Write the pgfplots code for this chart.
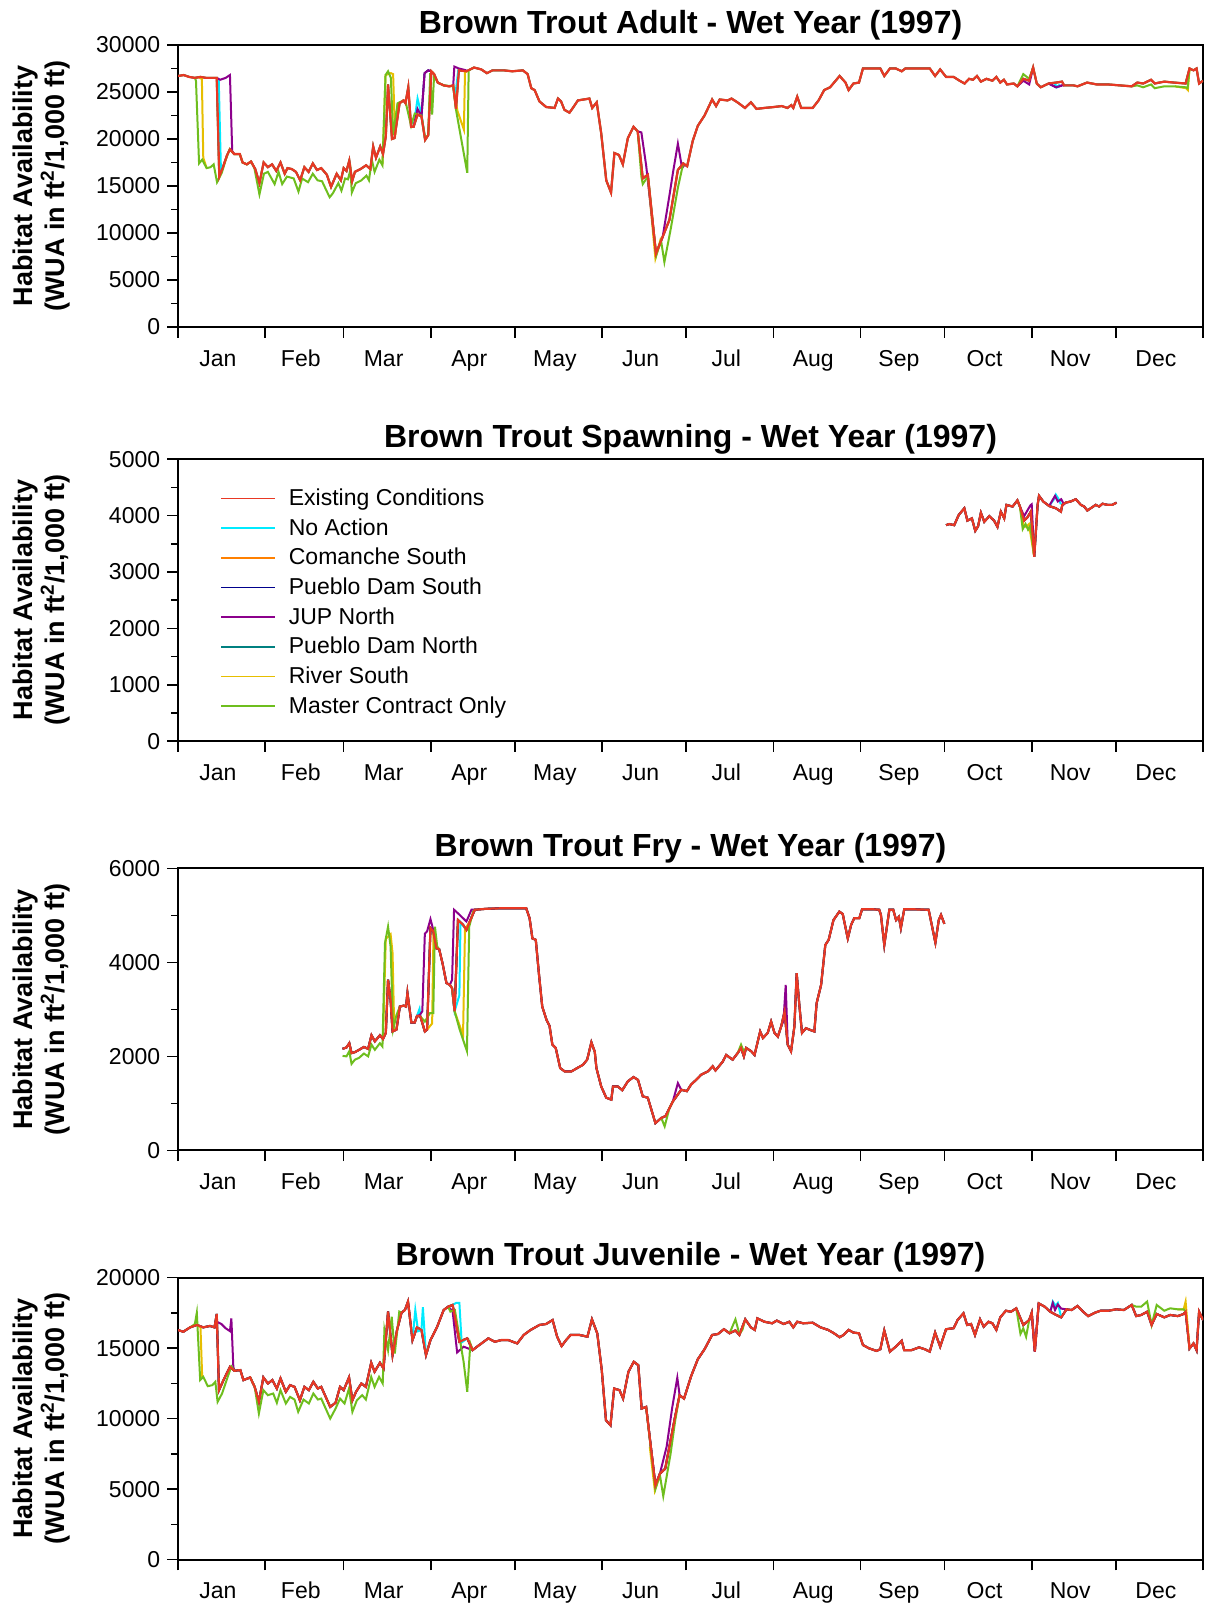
\documentclass[border=0pt]{standalone}
\usepackage{fontspec}
\setmainfont{Liberation Sans}
\usepackage{pgfplots}
\usepackage{pgfplotstable}
\pgfplotsset{compat=1.18}

\definecolor{cExist}{RGB}{232,56,36}
\definecolor{cNoAct}{RGB}{0,235,255}
\definecolor{cComan}{RGB}{255,128,0}
\definecolor{cPDS}{RGB}{0,0,140}
\definecolor{cJUP}{RGB}{140,0,140}
\definecolor{cPDN}{RGB}{0,128,128}
\definecolor{cRiver}{RGB}{230,190,0}
\definecolor{cMaster}{RGB}{110,190,30}

% ---------- Brown Trout Adult: Existing Conditions ----------
\pgfplotstableread{
d v
0 26700
2 26800
4 26600
6 26500
8 26600
10 26500
13.8 26500
14.7 16000
16 17000
17.5 18300
18.5 18900
20 18400
22 18400
23 17500
24.5 17300
26 17600
27.5 16800
29 15300
30.5 17500
32 17000
33.5 17300
35 16600
36.5 17500
38 16300
39 16900
40.5 16800
42 16500
43.5 15600
45 17000
46.5 16500
48 17400
49.5 16700
51 16900
53 16200
54.5 14900
56.5 16300
58 15600
59 16900
60 16600
61 17700
62 15500
63 16500
65 16800
67 17200
68.5 16800
69.5 19200
70.5 18000
72 19200
73 18400
74 20300
74.8 25800
76.2 20000
77.1 20100
78.9 23800
80.3 24100
81 23800
82 25500
83 21300
83.9 21300
85.3 22600
86.7 22400
88 19900
89.1 20400
90.2 27200
91.2 26900
92.5 26000
94.6 25700
96.6 25600
98 25700
99 23200
100 27300
102.7 27200
105.4 27600
108 27400
110 27000
112 27300
116 27300
119 27200
122.8 27300
124.5 26900
125.8 25400
127 25200
128.7 24000
131.1 23400
134.1 23300
135.3 24300
136.4 24000
137.6 23100
139.4 22800
140.6 23300
142.4 24100
146.5 24300
147.5 23300
149.1 23900
150.7 20600
152.5 15600
154.2 14300
155.4 18500
157 18300
158.4 17300
160.2 20100
162.2 21300
163.7 20800
165.5 15800
167.3 16200
170.2 7800
172.6 9600
175 11400
178 16700
179.9 17400
181.3 17100
183.3 19800
185.1 21400
187.5 22500
190.2 24200
191.6 23500
192.9 24200
195.7 24100
197.1 24300
199.2 23900
201.9 23300
204 23900
206 23200
208.8 23300
212.2 23400
215 23500
217 23300
218.4 23600
219.1 23300
220.5 24500
221.9 23300
226 23300
228.1 24100
230.1 25200
232.2 25500
235.6 26700
237.7 26000
238.8 25200
240.5 25900
242.5 26000
243.9 27500
246.7 27500
250.1 27500
251.5 26700
253.5 27500
255.6 27500
257.7 27200
259 27500
263.9 27500
267.7 27500
269.6 26700
271.4 27400
273.5 26600
276.2 26600
278.3 26200
280.1 25900
281.7 26400
283.1 26300
284.5 26700
285.9 26100
287.9 26400
290 26200
291.4 26600
292.8 26000
294.1 26300
295.2 25800
297.6 25900
298.9 25600
301 26400
303.1 26200
304.5 27600
305.8 25900
307.2 25500
310 25900
312.7 26000
314.8 26100
315.5 25700
318.9 25700
320.3 25600
323.7 26000
327.2 25800
331.3 25800
335.4 25700
339.6 25600
341.6 26000
343.7 25900
346.5 26300
347.8 25900
351.2 26100
354.7 26000
358.8 25900
360.2 27500
361.6 27300
362.7 27500
363.6 25900
365 26200
}\adultEx

% ---------- Brown Trout Spawning: Existing Conditions ----------
\pgfplotstableread{
d v
273.5 3830
274.6 3850
276.4 3830
278 4010
280 4130
281.1 3910
282.7 3950
283.9 3730
284.9 3810
285.9 4050
287.1 3890
288.9 3990
290.6 3910
291.8 3800
293 4070
294.2 3950
295 4190
297.2 4160
298.9 4270
299.8 4160
301.3 3910
302.5 3970
303.7 4070
304.9 3270
306.1 4190
306.6 4350
308.1 4250
310.2 4170
312.6 4130
314.4 4070
314.9 4190
316.1 4230
317.9 4250
319.7 4290
321.5 4190
322.7 4160
323.8 4090
325 4130
326.8 4190
328 4160
329.2 4210
331 4190
332.7 4190
334.2 4230
}\spawnEx

% ---------- Brown Trout Fry: Existing Conditions ----------
\pgfplotstableread{
d v
58.6 2160
60 2190
61 2280
61.8 2070
63 2090
64.5 2140
66.2 2200
67.7 2160
68.9 2450
70.1 2320
71.9 2450
73 2370
74 2500
74.8 3630
75.7 3200
76.4 2530
77.8 2570
79 3060
80.4 3080
81.2 3060
81.7 3350
83.1 2720
84.3 2720
85.1 2860
86.3 2850
87.9 2530
88.7 2570
89.9 4730
90.9 4660
92 4300
93 4280
94.2 3980
95.6 3560
96.8 3520
97.6 3450
98.5 2960
99.7 4900
101.5 4800
102.7 4690
103.9 4870
105.7 5120
109.8 5140
114.5 5150
119.2 5150
124 5150
125.2 4940
126.2 4510
127.4 4480
128.5 3770
129.7 3060
131.2 2780
132.3 2650
133.3 2250
134.5 2180
136.1 1750
137.7 1680
140.1 1680
142.1 1750
144.2 1820
145.7 1930
147.2 2300
148.4 2100
149 1750
150.7 1360
152.5 1120
154.3 1080
154.9 1360
156.6 1360
158.2 1280
160.2 1470
162.2 1560
163.8 1500
165.5 1150
167.3 1120
170 580
172.1 690
173.6 730
176.2 1040
179.2 1290
181.2 1260
182.7 1400
184.5 1500
186.3 1610
188.7 1680
190.4 1790
191.4 1700
194 1890
195.2 2030
197.5 1930
199.3 2070
200.5 2180
201.5 2000
202.3 2180
204.1 2110
205.3 2030
207.3 2530
208.3 2390
210 2500
211.2 2740
212.4 2500
213.6 2420
214.8 2640
216 2950
217.1 2250
218.3 2110
219.5 2640
220.3 3770
221.3 3060
222.2 2500
223.6 2600
224.8 2570
226.6 2530
227.4 3130
229 3520
230.5 4370
231.7 4480
233.4 4900
235.5 5080
236.7 5030
238.5 4510
239.7 4800
240.8 4940
242.6 4940
243.6 5130
247.4 5130
249.7 5120
250.3 5010
251.5 4370
253.3 5120
254.7 5120
255.7 4900
256.7 4970
257.4 4730
258.6 5130
261.6 5130
267.3 5120
269.7 4420
270.9 4900
271.7 5010
272.9 4820
}\fryEx

% ---------- Brown Trout Juvenile: Existing Conditions ----------
\pgfplotstableread{
d v
0 16280
1.9 16160
4.3 16470
6.7 16640
9 16470
11.4 16570
13 16470
13.8 17420
14.6 12020
16.2 12730
18.5 13670
20.1 13390
22.2 13440
23.3 12730
25.7 12920
27.3 12250
28.8 11190
30.4 12920
32 12490
33.6 12730
35.2 12130
36.5 12850
38.4 11900
39.9 12370
41.5 12250
43.4 11300
45 12250
46.6 12020
48.2 12610
49.8 12130
51 12250
54.2 10830
56.1 11120
57.7 12250
59 12020
60.9 12920
62.1 11300
63.4 11900
65.3 12490
66.9 12250
68.8 13960
70 13320
71.9 13960
73.2 13560
74.8 17590
76.4 14500
78 16280
79.6 17510
80.8 17700
81.9 18300
83.5 15570
85.1 16470
86.7 16280
88.3 14500
89.9 15570
92.2 16470
94.6 17700
96.2 17940
97.8 18060
100.2 15450
103 15690
104.9 14860
107.3 15220
110.5 15690
112.8 15450
115.2 15570
117.6 15570
120.8 15330
123.1 15930
125.5 16280
128.7 16640
131.1 16710
133.4 16990
135 15810
136.6 15140
138.2 15570
139.8 15930
143 15930
145.8 15810
147.4 17040
149.3 16040
150.9 13440
152.4 9880
154 9530
155.3 12130
157.2 12020
158.5 11420
160.4 13320
162.3 14030
163.9 13790
165.1 10710
166.7 10830
170 5260
171.6 6090
173.5 6450
175.4 8460
177 10120
178.6 11660
180.2 11420
182.7 13000
185.1 14210
187.5 14920
190.2 15930
192.3 16000
194.4 16340
196.4 16050
198.5 16250
199.9 15930
202 17040
204 16470
205.4 16290
206.3 17110
208.8 16870
211.6 16760
213.2 16950
215.7 16710
217.7 16870
219.1 16470
220.5 16870
222.6 16760
226 16800
228.8 16470
231.5 16290
233.6 16050
235.6 15770
237 15930
238.8 16290
240.5 16100
242.5 16050
243.9 15220
246 14990
248.7 14800
250.1 14920
251.5 16250
253.5 14750
255.6 15100
257.7 15520
258.6 14850
261.1 14850
263.9 15050
265.9 14920
267.7 14750
269.6 16100
271.4 15100
273.5 16340
276.2 16410
277.6 16990
279.7 17470
281 16640
282.4 16710
283.8 15930
285.6 17040
286.9 16520
288.6 16870
290 16760
291.4 16290
292.8 17180
294.8 17650
296.6 17580
298.5 17820
301 16640
303.1 16990
304 17510
305.1 14750
306.5 18170
308.6 17940
310.6 17580
312.7 17350
314.5 17180
316.4 17750
318.2 17700
320.3 17990
322.3 17580
324.1 17270
326.5 17510
328.5 17650
331.3 17650
334.1 17750
336.8 17700
339.6 18060
341.2 17270
343 17350
345.1 17580
346.7 16640
348.5 17420
351.2 17180
353.3 17350
356 17270
358.1 17420
358.8 17580
360.2 14970
361.6 15330
362.7 14850
363.6 17580
365 16990
}\juvEx

\pgfplotsset{
  panel/.style={
    scale only axis, width=512.5pt, height=141pt,
    anchor=north west,
    xmin=0, xmax=365, ymin=0,
    xtick={0,31,59,90,120,151,181,212,243,273,304,334,365},
    xticklabels={Jan,Feb,Mar,Apr,May,Jun,Jul,Aug,Sep,Oct,Nov,Dec},
    x tick label as interval,
    minor y tick num=1,
    scaled y ticks=false,
    tick align=outside, tick pos=left,
    major tick length=5.4pt, minor tick length=3.4pt,
    tick style={black, line width=0.8pt},
    axis line style={line width=1pt},
    ticklabel style={font=\fontsize{11.5}{13}\selectfont},
    xticklabel style={yshift=-2pt, xshift=-1.8pt, text height=8.6pt, text depth=2.4pt},
    /pgf/number format/assume math mode=true,
    /pgf/number format/1000 sep={},
    ylabel={Habitat Availability\\(WUA in ft\textsuperscript{2}/1,000 ft)},
    every axis y label/.style={at={(axis description cs:-0.1333,0.5)}, rotate=90,
      anchor=center, align=center, font=\bfseries\fontsize{13.5}{16}\selectfont},
    title style={font=\bfseries\fontsize{16}{19}\selectfont, yshift=-7pt},
    unbounded coords=jump,
  },
  exist/.style={color=cExist, line width=1.1pt},
  noact/.style={color=cNoAct, line width=1pt},
  coman/.style={color=cComan, line width=1pt},
  pds/.style={color=cPDS, line width=1pt},
  jup/.style={color=cJUP, line width=1pt},
  pdn/.style={color=cPDN, line width=1pt},
  river/.style={color=cRiver, line width=1pt},
  master/.style={color=cMaster, line width=1pt},
}

\begin{document}
\begin{tikzpicture}
\useasboundingbox (0,0) rectangle (602pt,802pt);

% ===== Adult =====
\begin{axis}[panel, at={(89pt,779.5pt)}, ymax=30000, ytick={0,5000,...,30000},
  title={Brown Trout Adult - Wet Year (1997)}]
\addplot[coman] table[x=d,y=v]{\adultEx};
\addplot[pdn] table[x=d,y=v]{\adultEx};
\addplot[pds] coordinates {(86.7,22400) (87.8,27000) (89.1,27300) (90.2,27200) (100,nan)
  (310,25900) (312.7,25500) (314.8,25700)};
\addplot[noact] coordinates {(13.8,26500) (14.5,26300) (15.3,16500) (16,17000) (20,nan)
  (83.9,21300) (85.3,24300) (86.7,22600) (88,20000) (90,nan)
  (98,25700) (98.8,24800) (99.8,27300) (100.5,27300) (101,nan)
  (312,26000) (313,25500) (314,25800)};
\addplot[river] coordinates {(7.5,26500) (8.5,26400) (9,18000) (10.2,16900) (11,nan)
  (72.8,17200) (73.9,26800) (75.8,27000) (76.6,26900) (77.3,20200) (78.2,23800) (79,nan)
  (98,25600) (99.5,23000) (101.8,21000) (102.2,27100) (103,27200) (104,nan)
  (167.3,16000) (170,7300) (172,9500) (173,nan)
  (355,25600) (359,25400) (359.6,25200) (360.2,27500)};
\addplot[jup] coordinates {(13.8,26500) (15,26300) (17,26500) (18.5,26800) (19.3,18700) (20,18400) (21,nan)
  (83.9,21300) (85.3,23200) (86.7,22400) (87.8,27000) (89.1,27300) (90.2,27200) (91,nan)
  (98,25700) (98.4,27700) (100,27500) (102.7,27300) (103,nan)
  (163.7,20800) (165,20700) (166.7,17200) (170.2,7800) (172.6,9600) (175,14000) (176.3,16500) (178,19500) (179.5,16900) (180.5,17300) (181,nan)
  (298.9,25600) (301,26200) (303.1,25800) (304.5,27600) (305,nan)
  (310,25900) (312.7,25500) (314.8,25700) (315.5,25700)};
\addplot[master] coordinates {(6,26500) (6.4,26200) (7.5,17400) (8.6,17800) (10.2,16900) (11.6,17000)
  (12.7,17300) (13.9,15400) (15.6,16400) (17,17800) (18.4,18900) (20,18400) (22,18400) (23,17500)
  (24.5,17300) (26,17600) (27.2,16900) (29,14100) (30.6,16300) (32,16500) (33.3,15800) (34.4,15200)
  (35.8,16500) (37.1,15200) (38.8,16000) (41.2,15800) (42.9,14400) (44.2,15800) (46.3,15400)
  (48,16300) (49.7,15600) (51.3,15500) (52.4,14800) (54,13800) (55.1,14200) (57.1,15300)
  (58.2,14500) (59.5,15800) (60.5,15700) (61.4,16700) (61.9,14300) (63.3,15300) (65.3,15600)
  (67.1,16100) (68,15600) (69,17800) (70,16500) (71.7,17800) (72.8,17200) (73.9,26800)
  (74.8,27200) (75.8,26500) (76.6,20400) (78.2,23800) (80.3,24100) (81,24000) (83,21400)
  (84.3,22700) (86.7,22500) (88,20100) (89.1,20400) (89.8,27000) (90.5,22600) (91.2,26800)
  (92.5,26000) (94.6,25700) (98,25600) (99,23100) (103,16400) (103.5,27300) (105.4,27600) (106,nan)
  (163.7,20800) (165,16000) (165.5,15200) (167.3,16000) (170.3,7600) (172,9200) (173.2,6900)
  (175.5,10500) (178,14800) (179.9,17400) (181,nan)
  (298.9,25600) (301,26900) (303.1,26400) (304.5,27600) (305,nan)
  (339.6,25600) (341.6,25700) (343.7,25500) (346.5,25800) (347.8,25400) (351.2,25600)
  (354.7,25600) (358.8,25500) (359.5,25400) (360.2,27500)};
\addplot[exist] table[x=d,y=v]{\adultEx};
\end{axis}

% ===== Spawning =====
\begin{axis}[panel, at={(89pt,572.4pt)}, ymax=5000, ytick={0,1000,...,5000},
  title={Brown Trout Spawning - Wet Year (1997)},
  legend style={at={(0.035,0.925)}, anchor=north west, draw=none, fill=none,
    font=\fontsize{11.5}{13}\selectfont, row sep=1.0pt, column sep=4.5pt,
    cells={anchor=west}},
  legend image code/.code={\draw[#1] (0pt,0pt) -- (27pt,0pt);}]
\addlegendimage{cExist, line width=0.8pt}
\addlegendimage{cNoAct, line width=0.8pt}
\addlegendimage{cComan, line width=0.8pt}
\addlegendimage{cPDS, line width=0.8pt}
\addlegendimage{cJUP, line width=0.8pt}
\addlegendimage{cPDN, line width=0.8pt}
\addlegendimage{cRiver, line width=0.8pt}
\addlegendimage{cMaster, line width=0.8pt}
\addplot[coman, forget plot] table[x=d,y=v]{\spawnEx};
\addplot[pdn, forget plot] table[x=d,y=v]{\spawnEx};
\addplot[pds, forget plot] table[x=d,y=v]{\spawnEx};
\addplot[noact, forget plot] coordinates {(310.2,4170) (312.1,4300) (312.6,4370) (313.5,4300) (314.4,4200)};
\addplot[river, forget plot] coordinates {(299.8,4160) (301,3850) (302,3800) (303,3850) (304.9,3270)};
\addplot[jup, forget plot] coordinates {(298.9,4270) (299.8,4160) (301.3,3990) (303.5,4180) (304,4200) (304.9,3270) (305,nan)
  (310.2,4170) (312.3,4350) (313.3,4250) (314.5,4290) (315.5,4200) (316.1,4230)};
\addplot[master, forget plot] coordinates {(298.9,4270) (299.8,4160) (300.8,3760) (301.8,3850) (302.7,3750) (303.5,3820) (304.9,3270)};
\addplot[exist, forget plot] table[x=d,y=v]{\spawnEx};
\legend{Existing Conditions,No Action,Comanche South,Pueblo Dam South,JUP North,Pueblo Dam North,River South,Master Contract Only}
\end{axis}

% ===== Fry =====
\begin{axis}[panel, at={(89pt,367.8pt)}, ymax=6000, ytick={0,2000,...,6000},
  title={Brown Trout Fry - Wet Year (1997)}]
\addplot[coman] table[x=d,y=v]{\fryEx};
\addplot[pdn] table[x=d,y=v]{\fryEx};
\addplot[pds] table[x=d,y=v]{\fryEx};
\addplot[noact] coordinates {(85.1,2860) (86,3010) (86.3,2850) (87,nan)
  (97.6,3450) (98.5,2960) (100.2,3300) (100.6,4850) (102.7,4690)};
\addplot[river] coordinates {(73,2370) (74,4500) (75.7,4600) (76.4,4200) (77,2570) (77.8,2570) (78,nan)
  (88.7,2570) (90.5,2700) (91,4700) (92,4300) (93,nan)
  (98.5,2960) (101.5,2450) (102.2,4700) (103.9,4870)};
\addplot[jup] coordinates {(85.1,2860) (86.1,2880) (87,2960) (87.9,4610) (88.7,4660) (89.9,4920) (90.9,4690) (92,4300) (93,nan)
  (96.8,3520) (97.6,3630) (98.3,5120) (100.3,5010) (102.7,4870) (104.5,5120) (105.7,5120) (106,nan)
  (176.2,1040) (178,1430) (179.2,1290) (180,nan)
  (214.8,2640) (215.6,2750) (216.4,3520) (217.1,2300)};
\addplot[master] coordinates {(58.6,2010) (60,2000) (61,2110) (61.8,1840) (63,1930) (64.5,1970)
  (66.2,2060) (67.7,2000) (68.9,2250) (70.1,2140) (71.9,2280) (72.8,2210) (73.7,4410) (74.8,4760)
  (75.7,4340) (76.6,2570) (77.8,2880) (79,3060) (80,nan)
  (86.3,2850) (87.9,2740) (89.7,2920) (90.9,2920) (91.5,4760) (92.3,4340) (93,4280) (94,nan)
  (96.8,3520) (97.6,3450) (98.5,2960) (100.3,2570) (102.9,2110) (103.7,4760) (105.1,5080) (105.7,5120) (106,nan)
  (172.1,690) (173.3,510) (175,900) (176.2,1040) (177,nan)
  (199.3,2070) (200.5,2250) (201.5,2100) (202.3,2180)};
\addplot[exist] table[x=d,y=v]{\fryEx};
\end{axis}

% ===== Juvenile =====
\begin{axis}[panel, at={(89pt,163.2pt)}, ymax=20000, ytick={0,5000,...,20000},
  title={Brown Trout Juvenile - Wet Year (1997)}]
\addplot[coman] table[x=d,y=v]{\juvEx};
\addplot[pdn] table[x=d,y=v]{\juvEx};
\addplot[pds] table[x=d,y=v]{\juvEx};
\addplot[noact] coordinates {(83.5,15570) (84.5,17700) (85.5,16200) (86.7,16280) (87.2,17900) (88.3,14500) (89,nan)
  (97.8,18060) (99,18200) (100.2,18200) (101,15400) (103,15690) (104,nan)
  (310.6,17580) (311.5,18300) (312.5,18000) (313.3,18200) (314.5,17180)};
\addplot[river] coordinates {(6.7,16640) (8,16500) (8.6,13000) (9,12960) (10,nan)
  (168,8000) (169.8,4900) (171.6,6000) (172,nan)
  (356,17750) (358.1,17750) (358.8,18300) (360.2,14970)};
\addplot[jup] coordinates {(13,16470) (13.8,16870) (15.5,16700) (17,16400) (18.5,16200) (19,17110) (19.7,13670) (20.1,13390) (21,nan)
  (96.2,17940) (97.8,17600) (99.4,14690) (101.7,15100) (103,15000) (104.9,14860) (105,nan)
  (166.7,10830) (170,5260) (171.6,6090) (174,8000) (176,10800) (177.8,12900) (178.6,11700) (179,nan)
  (304,17510) (305.1,14750) (306.5,18170) (307,nan)
  (310.6,17580) (311.5,18200) (312.3,17700) (313.3,18100) (314.5,17800) (316.4,17750)};
\addplot[master] coordinates {(4.3,16470) (6,16700) (6.7,17510) (7.9,12730) (9,12960) (10.6,12300)
  (12.2,12370) (13.3,12610) (14.1,11190) (15.7,11780) (17.7,12960) (19,13700) (20.1,13390) (21,nan)
  (25.7,12920) (27.3,12250) (28.8,10360) (30.4,12020) (32,11660) (33.9,11780) (35.2,11120)
  (36.5,12020) (38.4,11070) (39.9,11540) (41.5,11350) (42.8,10480) (44.7,11350) (46.6,11070)
  (48.2,11780) (49.8,11350) (51,11420) (54.2,10000) (56.1,10710) (57.7,11420) (59.3,11070)
  (60.9,12130) (62.1,10480) (63.7,11300) (65.6,11660) (66.9,11350) (68.8,12960) (70,12250)
  (71.6,12960) (72.9,12490) (73.5,16280) (74.8,14860) (76.1,17230) (77.2,14620) (78.8,17590) (79.6,17510) (80,nan)
  (96.2,17940) (97,17590) (98.6,17700) (100.2,15810) (101.7,14030) (103,11900) (104.1,15330) (104.9,14860) (105,nan)
  (166.7,10830) (170,5000) (171.6,6000) (172.8,4500) (175.4,7500) (177,9800) (178.6,11660) (179,nan)
  (196.4,16050) (198.5,17040) (199.9,16000) (201,16300) (202,17040) (203,nan)
  (298.5,17820) (300,16000) (301,16400) (302,15800) (303.1,16990) (304,nan)
  (339.6,18060) (341.2,17940) (343,17940) (345.1,18300) (346.7,16640) (348.5,18060) (351.2,17650)
  (353.3,17820) (356,17750) (358.1,17750) (358.8,17580)};
\addplot[exist] table[x=d,y=v]{\juvEx};
\end{axis}
\end{tikzpicture}
\end{document}
